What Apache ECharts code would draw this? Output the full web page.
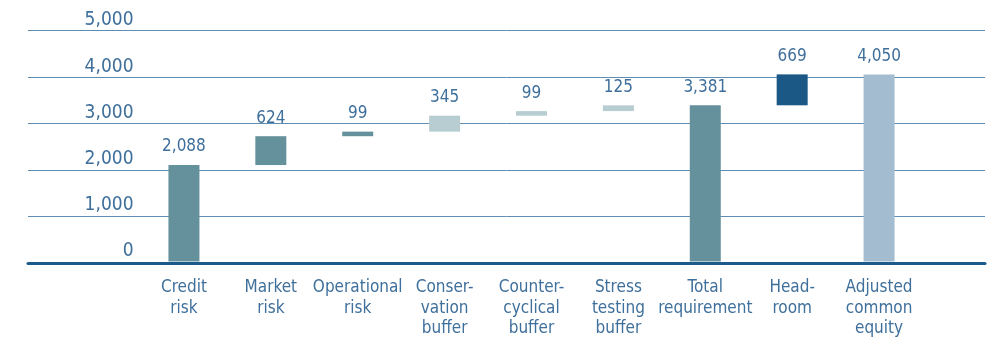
<!DOCTYPE html>
<html>
<head>
<meta charset="utf-8">
<script src="https://cdn.jsdelivr.net/npm/echarts@6/dist/echarts.min.js"></script>
<style>
  html, body { margin: 0; padding: 0; background: #ffffff; }
  #chart { width: 993px; height: 339px; }
</style>
</head>
<body>
<div id="chart"></div>
<script>
// Capital build-up: each step adds to the running total; "total" steps start from zero.
const categories = [
  'Credit\nrisk', 'Market\nrisk', 'Operational\nrisk', 'Conser-\nvation\nbuffer',
  'Counter-\ncyclical\nbuffer', 'Stress\ntesting\nbuffer', 'Total\nrequirement',
  'Head-\nroom', 'Adjusted\ncommon\nequity'
];
const amounts = [2088, 624, 99, 345, 99, 125, 3381, 669, 4050];
const stepKinds = ['delta', 'delta', 'delta', 'delta', 'delta', 'delta', 'total', 'delta', 'total'];
const barColors = ['#64919c', '#64919c', '#64919c', '#b8cdd2', '#b8cdd2', '#b8cdd2', '#64919c', '#1b5886', '#a3bccf'];
const yTicks = [0, 1000, 2000, 3000, 4000, 5000];

// Invisible offsets that lift each floating step onto the running total.
const offsets = [];
let running = 0;
amounts.forEach((v, i) => {
  if (stepKinds[i] === 'total') {
    offsets.push(0);
    running = v;
  } else {
    offsets.push(running);
    running += v;
  }
});

const FONT = '"DejaVu Sans Condensed", "Liberation Sans Narrow", "DejaVu Sans", sans-serif';
const TEXT = '#3f6f9b';
const Y_MIN = yTicks[0], Y_MAX = yTicks[yTicks.length - 1], Y_STEP = yTicks[1] - yTicks[0];

const chart = echarts.init(document.getElementById('chart'), null, { renderer: 'canvas' });
chart.setOption({
  animation: false,
  backgroundColor: '#ffffff',
  grid: [
    { left: 140.5, right: 70.5, top: 30.5, bottom: 76 },
    { left: 28, right: 8, top: 30.5, bottom: 76 }
  ],
  xAxis: [
    {
      type: 'category', gridIndex: 0, data: categories,
      axisLine: { show: false }, axisTick: { show: false },
      axisLabel: {
        interval: 0, margin: 16, color: TEXT, fontFamily: FONT,
        fontSize: 17, lineHeight: 20.5, align: 'center', verticalAlign: 'top'
      }
    },
    {
      type: 'value', gridIndex: 1, min: 0, max: 1,
      axisLine: { show: true, lineStyle: { color: '#1c5a8b', width: 3 } },
      axisTick: { show: false }, axisLabel: { show: false }, splitLine: { show: false }
    }
  ],
  yAxis: [
    {
      type: 'value', gridIndex: 0, min: Y_MIN, max: Y_MAX, interval: Y_STEP,
      axisLine: { show: false }, axisTick: { show: false }, splitLine: { show: false },
      axisLabel: {
        color: TEXT, fontFamily: FONT, fontSize: 19, margin: 7,
        verticalAlign: 'bottom', lineHeight: 20, padding: [0, 0, 0, 0],
        formatter: v => v.toLocaleString('en-US')
      }
    },
    {
      type: 'value', gridIndex: 1, min: Y_MIN, max: Y_MAX, interval: Y_STEP,
      axisLine: { show: false }, axisTick: { show: false }, axisLabel: { show: false },
      splitLine: { show: true, lineStyle: { color: '#5f8db4', width: 1 } }
    }
  ],
  series: [
    {
      type: 'bar', xAxisIndex: 0, yAxisIndex: 0, stack: 'steps',
      barWidth: 31, silent: true,
      itemStyle: { color: 'transparent' },
      data: offsets
    },
    {
      type: 'bar', xAxisIndex: 0, yAxisIndex: 0, stack: 'steps',
      barWidth: 31,
      data: amounts.map((v, i) => ({ value: v, itemStyle: { color: barColors[i] } })),
      label: {
        show: true, position: 'top', distance: 8,
        color: TEXT, fontFamily: FONT, fontSize: 17, lineHeight: 20,
        formatter: p => p.value.toLocaleString('en-US')
      }
    }
  ]
});
</script>
</body>
</html>
